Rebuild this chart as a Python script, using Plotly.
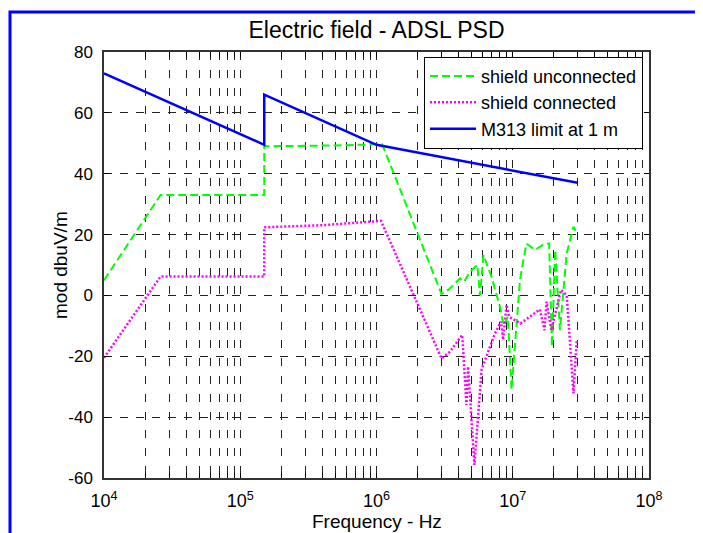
import plotly.graph_objects as go

# ---------------- data ----------------
freq_unconn = [1e4, 2.6e4, 1.5e5, 1.5e5, 5e5, 1.1e6, 3.0e6, 3.4e6, 4.1e6, 4.4e6, 4.85e6, 5.5e6,
               5.75e6, 6.1e6, 7.0e6, 8.05e6, 8.6e6, 9.2e6, 9.8e6, 10.7e6, 11.3e6, 11.9e6,
               12.6e6, 14.6e6, 16.6e6, 18.5e6, 19.4e6, 20.5e6, 22.2e6, 24.9e6, 27.9e6, 29.5e6]
val_unconn = [5, 33, 33, 49, 49.3, 49.7, 0.5, 2, 5.6, 4.5, 7.8, 10,
              0, 13.3, 6, -3.7, -10, -7, -31, -8, 5, 11,
              17, 15, 16.6, 17.1, -16.8, 15, -11.4, 13.8, 22.6, 20.5]

freq_conn = [1e4, 2.6e4, 1.5e5, 1.5e5, 4.1e5, 1.08e6, 3.0e6, 3.46e6, 4.0e6, 4.26e6, 4.57e6,
             4.7e6, 5.23e6, 5.9e6, 6.6e6, 7.4e6, 8.2e6, 8.5e6, 9.0e6, 9.4e6, 11.4e6,
             15.8e6, 17.1e6, 17.7e6, 19.2e6, 22.6e6, 24.9e6, 27.9e6, 29.5e6]
val_conn = [-20.5, 6.2, 6.2, 22.4, 23.1, 24.5, -20.7, -18.5, -14.6, -13, -36,
            -23.4, -55.7, -24.5, -18.5, -12.5, -8.6, -14.6, -3.1, -7, -9.2,
            -4.6, -11.4, -2.1, -11.4, 1.8, 0.1, -32.2, -14.6]

freq_limit = [1e4, 1.5e5, 1.5e5, 1e6, 3e7]
val_limit = [73, 49.5, 66, 49.5, 37]

x_tick_vals = [m * 10 ** d for d in range(4, 8) for m in range(1, 10)] + [1e8]
x_tick_text = ["10<sup>%d</sup>" % d if m == 1 else "" for d in range(4, 8) for m in range(1, 10)] + ["10<sup>8</sup>"]
y_tick_vals = [-60, -40, -20, 0, 20, 40, 60, 80]
y_tick_text = ["-60", "-40", "-20", "0", "20", "40", "60", "80"]

names = ["shield unconnected", "shield connected", "M313 limit at 1 m"]

# ---------------- figure ----------------
fig = go.Figure()
fig.add_trace(go.Scatter(x=freq_unconn, y=val_unconn, mode="lines", name=names[0],
                         line=dict(color="#00ff00", width=2, dash="8px,4px")))
fig.add_trace(go.Scatter(x=freq_conn, y=val_conn, mode="lines", name=names[1],
                         line=dict(color="#ff00ff", width=2.5, dash="2px,2px")))
fig.add_trace(go.Scatter(x=freq_limit, y=val_limit, mode="lines", name=names[2],
                         line=dict(color="#0000ff", width=2.5)))

font_family = "Liberation Sans, Arial, sans-serif"

# the page body has an 8px margin, so the figure is offset by 8px
fig.update_layout(
    width=695, height=525, autosize=False,
    margin=dict(l=96, r=54, t=44, b=55),
    paper_bgcolor="white", plot_bgcolor="white",
    font=dict(family=font_family, size=17, color="black"),
    showlegend=True,
    legend=dict(x=0.989, y=0.989, xanchor="right", yanchor="top",
                bgcolor="white", bordercolor="black", borderwidth=1,
                font=dict(size=18, family=font_family), tracegroupgap=0,
                itemwidth=46),
    title=dict(text="Electric field - ADSL PSD", x=0.5, xref="paper", xanchor="center",
               y=1 - 22 / 525, yanchor="middle", font=dict(size=23, family=font_family)),
)

fig.update_xaxes(
    type="log", range=[4, 8],
    tickmode="array", tickvals=x_tick_vals, ticktext=x_tick_text,
    ticks="inside", ticklen=5, tickcolor="black",
    showline=True, linecolor="#333", linewidth=1.5, mirror="allticks",
    showgrid=True, gridcolor="#222", gridwidth=1, griddash="8px,10px",
    zeroline=False, tickfont=dict(size=18), ticklabelstandoff=6,
)
fig.update_yaxes(
    range=[-60, 80], tickmode="array", tickvals=y_tick_vals, ticktext=y_tick_text,
    ticks="inside", ticklen=5, tickcolor="black",
    showline=True, linecolor="#333", linewidth=1.5, mirror="allticks",
    showgrid=True, gridcolor="#222", gridwidth=1, griddash="8px,8px",
    zeroline=False, tickfont=dict(size=17), ticklabelstandoff=6,
)

# axis titles
fig.add_annotation(text="Frequency - Hz", xref="paper", yref="paper",
                   x=0.5, y=(478 - 521) / 426, showarrow=False,
                   font=dict(size=19), xanchor="center", yanchor="middle")
fig.add_annotation(text="mod dbuV/m", xref="paper", yref="paper",
                   x=(60 - 104) / 545, y=(478 - 265) / 426, showarrow=False,
                   textangle=-90, font=dict(size=19), xanchor="center", yanchor="middle")

# blue frame around the figure
left = (10 - 104) / 545
top = (478 - 12) / 426
fig.add_shape(type="path", xref="paper", yref="paper",
              path=f"M {left},-0.3 L {left},{top} L 1.3,{top}",
              line=dict(color="#0000ff", width=3))

fig.write_html("out.html")
